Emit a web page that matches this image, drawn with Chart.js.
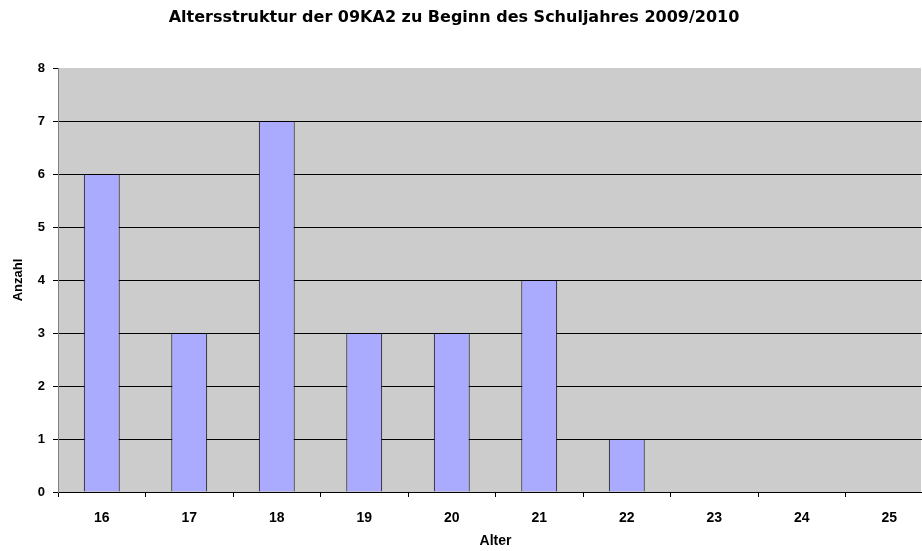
<!DOCTYPE html>
<html><head><meta charset="utf-8">
<script src="https://cdn.jsdelivr.net/npm/chart.js@4/dist/chart.umd.min.js"></script>
<style>html,body{margin:0;padding:0;background:#fff;overflow:hidden}#wrap{width:922px;height:551px;overflow:hidden;position:relative}#c{position:absolute;left:0;top:0}</style>
</head><body><div id="wrap"><canvas id="c" width="933" height="551"></canvas></div>
<script>
const categories = ['16','17','18','19','20','21','22','23','24','25'];
const counts = [6, 3, 7, 3, 3, 4, 1, 0, 0, 0];
const yTicks = [0,1,2,3,4,5,6,7,8];
const titleText = 'Altersstruktur der 09KA2 zu Beginn des Schuljahres 2009/2010';
const FONT = "'Liberation Sans', Arial, sans-serif";
const TITLE_FONT = "bold 16px 'DejaVu Sans', sans-serif";

const bgPlugin = {
  id: 'plotBg',
  beforeDraw(chart) {
    const {ctx, chartArea: a} = chart;
    ctx.save(); ctx.fillStyle = '#cccccc';
    ctx.fillRect(a.left, a.top, Math.min(a.right, 921) - a.left, a.bottom - a.top);
    ctx.restore();
  },
  afterDraw(chart) {
    const ctx = chart.ctx;
    ctx.save();
    ctx.font = TITLE_FONT; ctx.fillStyle = '#000';
    ctx.textAlign = 'center'; ctx.textBaseline = 'alphabetic';
    ctx.fillText(titleText, 454, 22);
    ctx.restore();
  }
};

new Chart(document.getElementById('c'), {
  type: 'bar',
  data: { labels: categories, datasets: [{ data: counts, backgroundColor: '#aaaaff', borderColor: '#000', borderWidth: 1, categoryPercentage: 1, barPercentage: 0.41 }] },
  options: {
    responsive: false, animation: false, devicePixelRatio: 1,
    layout: { padding: { left: 0, right: 0, top: 68, bottom: 0 } },
    plugins: { legend: { display: false }, tooltip: { enabled: false }, title: { display: false } },
    scales: {
      x: {
        grid: { display: true, drawOnChartArea: false, tickLength: 5, color: '#000', offset: true },
        border: { color: '#000' },
        ticks: { color: '#000', font: { family: FONT, size: 14, weight: 'bold' }, padding: 13 },
        title: { display: true, text: 'Alter', color: '#000', font: { family: FONT, size: 14, weight: 'bold' }, padding: { top: 0, bottom: 1 } },
        afterFit(s) { s.height = 59; }
      },
      y: {
        min: 0, max: 8,
        afterBuildTicks(s) { s.ticks = yTicks.map(v => ({ value: v })); },
        grid: { color: ctx => (ctx.tick && ctx.tick.value === 8) ? 'rgba(0,0,0,0)' : '#000', tickColor: '#000', tickLength: 5 },
        border: { color: '#808080' },
        ticks: { color: '#000', font: { family: FONT, size: 13, weight: 'bold' }, padding: 8 },
        title: { display: true, text: 'Anzahl', color: '#000', font: { family: FONT, size: 13, weight: 'bold' }, padding: { top: 11, bottom: 0 } },
        afterFit(s) { s.width = 58; }
      }
    }
  },
  plugins: [bgPlugin]
});
</script></body></html>
